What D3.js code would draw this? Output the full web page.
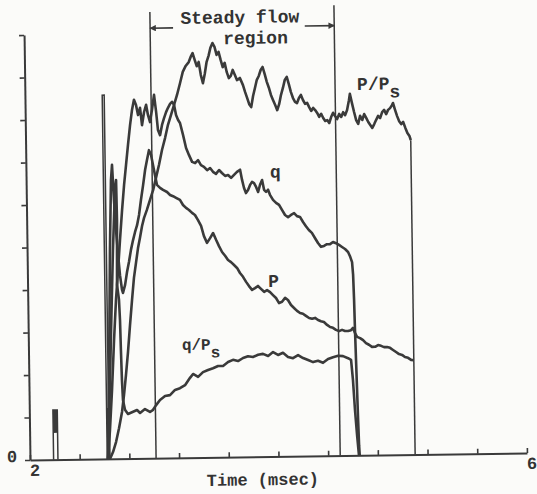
<!DOCTYPE html>
<html><head><meta charset="utf-8">
<script src="https://cdn.jsdelivr.net/npm/d3@7"></script>
<style>
html,body{margin:0;padding:0;background:#fbfbf9;}
svg{display:block;}
text{font-family:"Liberation Mono","DejaVu Sans Mono",monospace;fill:#333;font-weight:bold;}
</style></head><body>
<svg id="chart" width="537" height="494"></svg>
<script>
// ---- axes ----
const xDomain = [2, 6];
const yDomain = [0, 10];
const xTickValues = [2, 2.4, 2.8, 3.2, 3.6, 4.0, 4.4, 4.8, 5.2, 5.6, 6];
const yTickValues = [0, 1, 2, 3, 4, 5, 6, 7, 8, 9, 10];
const xTickLabels = [{t: 2, text: "2"}, {t: 6, text: "6"}];
const yTickLabels = [{v: 0, text: "0"}];

// ---- series: [time (msec), value] ----
const seriesPPs = [
[2.644,0],[2.669,0.16],[2.695,0.40],[2.720,0.72],[2.746,1.10],[2.764,1.50],[2.782,1.97],[2.801,2.51],
[2.820,3.14],[2.839,3.73],[2.857,4.25],[2.876,4.62],[2.893,4.95],[2.910,5.19],[2.928,5.47],[2.945,5.66],
[2.968,5.84],[2.995,6.08],[3.021,6.31],[3.045,6.59],[3.071,6.90],[3.097,7.25],[3.123,7.53],[3.148,7.84],
[3.173,8.07],[3.199,8.31],[3.224,8.54],[3.250,8.82],[3.273,9.08],[3.297,9.22],[3.322,9.31],[3.338,9.43],
[3.354,9.52],[3.370,9.36],[3.386,9.21],[3.402,9.31],[3.418,9.00],[3.434,8.81],[3.450,9.03],[3.466,9.31],
[3.482,9.45],[3.498,9.64],[3.515,9.75],[3.531,9.66],[3.547,9.47],[3.563,9.54],[3.579,9.35],[3.595,9.18],
[3.611,9.28],[3.627,9.06],[3.643,8.92],[3.659,8.97],[3.675,9.11],[3.692,8.99],[3.708,8.87],[3.732,8.92],
[3.756,8.75],[3.772,8.59],[3.788,8.45],[3.804,8.30],[3.820,8.23],[3.836,8.49],[3.852,8.68],[3.868,8.87],
[3.884,8.96],[3.900,9.10],[3.916,9.17],[3.932,9.00],[3.948,8.82],[3.964,8.68],[3.980,8.51],[3.996,8.39],
[4.013,8.27],[4.029,8.15],[4.045,8.29],[4.061,8.51],[4.077,8.67],[4.093,8.86],[4.109,8.93],[4.125,8.76],
[4.141,8.57],[4.157,8.43],[4.173,8.34],[4.189,8.31],[4.205,8.43],[4.221,8.50],[4.237,8.38],[4.254,8.29],
[4.270,8.31],[4.286,8.21],[4.302,8.12],[4.318,8.19],[4.334,8.14],[4.350,8.07],[4.366,7.98],[4.382,8.05],
[4.398,7.95],[4.414,7.88],[4.430,7.90],[4.446,7.83],[4.462,7.97],[4.478,8.07],[4.494,7.99],[4.510,7.92],
[4.527,8.04],[4.543,7.97],[4.559,8.08],[4.575,8.01],[4.591,8.13],[4.607,8.36],[4.615,8.51],[4.631,8.29],
[4.647,8.08],[4.663,7.89],[4.679,7.80],[4.695,7.99],[4.712,7.89],[4.728,8.03],[4.744,7.94],[4.760,7.84],
[4.776,7.77],[4.792,7.70],[4.808,7.79],[4.824,7.89],[4.840,7.98],[4.856,7.93],[4.873,8.07],[4.889,8.12],
[4.905,8.02],[4.921,8.12],[4.937,8.16],[4.953,8.23],[4.961,8.28],[4.977,8.12],[4.993,7.97],[5.009,7.85],
[5.025,7.78],[5.041,7.83],[5.058,7.69],[5.074,7.57],[5.090,7.50],[5.100,7.40]
];

const seriesQ = [
[2.628,0],[2.647,0.68],[2.668,1.62],[2.690,2.80],[2.710,3.74],[2.730,4.44],[2.749,5.15],[2.769,5.85],
[2.788,6.44],[2.806,6.91],[2.824,7.38],[2.843,7.85],[2.860,8.20],[2.877,8.44],[2.893,8.32],[2.908,8.08],
[2.925,8.25],[2.939,7.84],[2.957,8.15],[2.974,8.32],[2.988,8.08],[3.004,7.91],[3.021,8.20],[3.039,8.55],
[3.054,8.15],[3.067,7.72],[3.083,7.60],[3.100,7.84],[3.117,8.00],[3.134,8.14],[3.150,8.24],[3.167,8.33],
[3.183,8.38],[3.199,8.31],[3.214,8.07],[3.230,7.95],[3.245,7.88],[3.268,7.60],[3.291,7.29],[3.314,7.12],
[3.338,6.96],[3.362,6.93],[3.386,7.00],[3.409,6.88],[3.433,6.84],[3.458,6.76],[3.482,6.81],[3.505,6.72],
[3.529,6.67],[3.554,6.76],[3.577,6.69],[3.602,6.62],[3.626,6.64],[3.650,6.57],[3.674,6.64],[3.698,6.71],
[3.723,6.76],[3.738,6.52],[3.753,6.33],[3.768,6.21],[3.785,6.28],[3.802,6.40],[3.818,6.47],[3.834,6.44],
[3.850,6.35],[3.866,6.23],[3.882,6.40],[3.899,6.51],[3.914,6.28],[3.930,6.23],[3.946,6.28],[3.961,6.16],
[3.985,6.04],[4.009,5.97],[4.033,5.92],[4.056,5.80],[4.080,5.68],[4.104,5.63],[4.128,5.68],[4.153,5.72],
[4.176,5.65],[4.200,5.63],[4.224,5.51],[4.247,5.41],[4.270,5.32],[4.294,5.25],[4.318,5.13],[4.342,5.01],
[4.366,4.92],[4.390,4.94],[4.414,4.98],[4.439,4.98],[4.463,5.03],[4.487,5.00],[4.511,4.96],[4.535,4.91],
[4.559,4.86],[4.583,4.79],[4.598,4.69],[4.614,4.55],[4.621,4.25],[4.626,3.66],[4.630,2.95],[4.635,2.24],
[4.640,1.54],[4.645,0.83],[4.650,0.24],[4.654,0]
];

const seriesP = [
[2.628,0],[2.645,1.86],[2.667,4.92],[2.683,6.56],[2.693,6.92],[2.705,6.09],[2.718,5.38],[2.732,4.80],
[2.745,4.32],[2.760,3.97],[2.767,3.90],[2.785,4.09],[2.802,4.39],[2.819,4.63],[2.836,4.91],[2.854,5.14],
[2.871,5.33],[2.888,5.49],[2.905,5.73],[2.922,6.08],[2.941,6.43],[2.959,6.79],[2.975,7.02],[2.992,7.25],
[3.008,7.14],[3.023,6.90],[3.038,6.66],[3.053,6.43],[3.077,6.36],[3.101,6.31],[3.133,6.26],[3.157,6.19],
[3.181,6.16],[3.205,6.12],[3.236,6.07],[3.260,5.95],[3.284,5.88],[3.308,5.83],[3.332,5.76],[3.355,5.71],
[3.379,5.59],[3.403,5.45],[3.425,5.21],[3.449,5.05],[3.474,5.16],[3.499,5.28],[3.522,5.12],[3.545,4.97],
[3.569,4.83],[3.593,4.74],[3.616,4.64],[3.640,4.59],[3.664,4.52],[3.688,4.45],[3.711,4.33],[3.735,4.24],
[3.759,4.12],[3.782,4.02],[3.806,3.93],[3.830,3.97],[3.854,4.02],[3.878,3.95],[3.903,3.88],[3.927,3.92],
[3.951,3.87],[3.974,3.80],[3.998,3.73],[4.022,3.61],[4.046,3.64],[4.071,3.73],[4.094,3.68],[4.118,3.56],
[4.142,3.49],[4.166,3.42],[4.190,3.37],[4.213,3.35],[4.237,3.30],[4.262,3.25],[4.286,3.23],[4.310,3.25],
[4.334,3.20],[4.357,3.17],[4.381,3.15],[4.406,3.08],[4.430,3.03],[4.453,3.01],[4.477,2.96],[4.501,2.93],
[4.526,2.96],[4.550,2.93],[4.574,2.93],[4.598,2.95],[4.614,3.00],[4.630,2.88],[4.646,2.79],[4.670,2.76],
[4.694,2.71],[4.717,2.64],[4.741,2.60],[4.765,2.55],[4.790,2.55],[4.814,2.59],[4.838,2.57],[4.862,2.54],
[4.886,2.54],[4.910,2.52],[4.934,2.47],[4.958,2.42],[4.982,2.37],[5.006,2.35],[5.029,2.30],[5.054,2.28],
[5.078,2.23],[5.100,2.22]
];

const seriesQPs = [
[2.628,0],[2.639,0.68],[2.667,3.03],[2.691,4.91],[2.716,6.44],[2.724,6.56],[2.727,5.62],[2.720,4.09],
[2.734,3.74],[2.740,3.26],[2.744,2.56],[2.749,1.85],[2.755,1.38],[2.770,1.15],[2.794,1.05],[2.835,1.10],
[2.867,1.14],[2.891,1.07],[2.931,1.16],[2.971,1.09],[2.996,1.14],[3.021,1.25],[3.053,1.37],[3.094,1.46],
[3.134,1.48],[3.175,1.60],[3.215,1.64],[3.256,1.71],[3.297,1.88],[3.322,1.97],[3.362,1.90],[3.402,2.01],
[3.443,2.06],[3.483,2.10],[3.524,2.15],[3.564,2.15],[3.605,2.24],[3.645,2.29],[3.685,2.26],[3.726,2.33],
[3.766,2.37],[3.806,2.35],[3.847,2.40],[3.887,2.42],[3.928,2.37],[3.968,2.46],[4.008,2.39],[4.048,2.44],
[4.088,2.34],[4.128,2.31],[4.169,2.38],[4.209,2.31],[4.249,2.26],[4.289,2.21],[4.329,2.24],[4.369,2.19],
[4.410,2.28],[4.450,2.32],[4.491,2.35],[4.531,2.34],[4.571,2.29],[4.595,2.25],[4.608,1.78],[4.621,1.07],
[4.635,0.48],[4.648,0]
];

// early trigger spike and small pulse
const spikeTrace = [[2.622,0],[2.622,8.56],[2.638,8.56],[2.638,0]];
const spikeBar = {t0: 2.622, t1: 2.650, v0: 0, v1: 1.2};
const pulseTrace = [[2.190,0],[2.190,1.17],[2.225,1.17],[2.225,0]];
const pulseBar = {t0: 2.190, t1: 2.225, v0: 0.63, v1: 1.17};

// vertical guide lines (time, top value)
const guideTimes = [3.015, 4.497, 5.100];
const guideTops = [10.50, 10.60, 7.40];

// steady flow region arrows
const arrowLevel = 10.12;
const arrowLeft = [3.20, 3.015];
const arrowRight = [4.26, 4.497];

// text annotations [time, value]
const annotations = [
  {t: 3.738, v: 10.21, text: "Steady flow", anchor: "middle", size: 18},
  {t: 3.862, v: 9.72, text: "region", anchor: "middle", size: 18},
  {t: 3.964, v: 6.56, text: "q", anchor: "start", size: 18},
  {t: 3.936, v: 3.99, text: "P", anchor: "start", size: 18}
];
const subLabels = [
  {t: 4.674, v: 8.60, main: "P/P", sub: "s", size: 18},
  {t: 3.235, v: 2.54, main: "q/P", sub: "s", size: 16}
];
const axisTitle = {t: 3.872, v: -0.67, text: "Time (msec)"};

// ---- drawing ----
const ink = "#3a3a3a";
const svg = d3.select("#chart");
const g = svg.append("g").attr("transform", "rotate(-0.8,30,460)");

const x = d3.scaleLinear().domain(xDomain).range([30, 527]);
const y = d3.scaleLinear().domain(yDomain).range([460, 35]);

const xAxis = d3.axisBottom(x).tickValues(xTickValues).tickSize(-5).tickSizeOuter(0).tickFormat("");
const yAxis = d3.axisLeft(y).tickValues(yTickValues).tickSize(5).tickSizeOuter(0).tickFormat("");

const gx = g.append("g").attr("transform", `translate(0,${y(0)})`).call(xAxis);
const gy = g.append("g").attr("transform", `translate(${x(2)},0)`).call(yAxis);
[gx, gy].forEach(a => {
  a.select(".domain").attr("stroke", ink).attr("stroke-width", 2);
  a.selectAll(".tick line").attr("stroke", ink).attr("stroke-width", 1.6);
});

g.selectAll(".xlab").data(xTickLabels).enter().append("text")
  .attr("x", d => x(d.t) + 5).attr("y", y(0) + 16)
  .attr("text-anchor", "middle").attr("font-size", 17).text(d => d.text);
g.selectAll(".ylab").data(yTickLabels).enter().append("text")
  .attr("x", x(2) - 18).attr("y", y(0) + 2)
  .attr("text-anchor", "middle").attr("font-size", 17).text(d => d.text);

g.append("text").attr("x", x(axisTitle.t)).attr("y", y(axisTitle.v))
  .attr("text-anchor", "middle").attr("font-size", 17).text(axisTitle.text);

// guide lines
g.selectAll(".guide").data(guideTimes).enter().append("line")
  .attr("x1", d => x(d)).attr("x2", d => x(d))
  .attr("y1", y(0)).attr("y2", (d, i) => y(guideTops[i]))
  .attr("stroke", ink).attr("stroke-width", 1.5);

// arrows
const defs = svg.append("defs");
defs.append("marker").attr("id", "ah").attr("viewBox", "0 0 10 10")
  .attr("refX", 9).attr("refY", 5).attr("markerWidth", 5).attr("markerHeight", 4)
  .attr("orient", "auto").attr("markerUnits", "strokeWidth")
  .append("path").attr("d", "M0,0 L10,5 L0,10 Z").attr("fill", ink);
[arrowLeft, arrowRight].forEach(a => {
  g.append("line").attr("x1", x(a[0])).attr("x2", x(a[1]))
    .attr("y1", y(arrowLevel)).attr("y2", y(arrowLevel))
    .attr("stroke", ink).attr("stroke-width", 1.6).attr("marker-end", "url(#ah)");
});

// traces
const line = d3.line().x(d => x(d[0])).y(d => y(d[1]));
[seriesPPs, seriesQ, seriesP, seriesQPs].forEach(s => {
  g.append("path").datum(s).attr("d", line)
    .attr("fill", "none").attr("stroke", ink).attr("stroke-width", 2.6)
    .attr("stroke-linejoin", "round");
});
[spikeTrace, pulseTrace].forEach(s => {
  g.append("path").datum(s).attr("d", line)
    .attr("fill", "none").attr("stroke", ink).attr("stroke-width", 1.5);
});
[spikeBar, pulseBar].forEach(b => {
  g.append("rect").attr("x", x(b.t0)).attr("width", x(b.t1) - x(b.t0))
    .attr("y", y(b.v1)).attr("height", y(b.v0) - y(b.v1)).attr("fill", ink);
});

// annotations
annotations.forEach(a => {
  g.append("text").attr("x", x(a.t)).attr("y", y(a.v))
    .attr("text-anchor", a.anchor).attr("font-size", a.size).text(a.text);
});
subLabels.forEach(a => {
  const tx = g.append("text").attr("x", x(a.t)).attr("y", y(a.v)).attr("font-size", a.size);
  tx.append("tspan").text(a.main);
  tx.append("tspan").attr("dy", 8).text(a.sub);
});
</script>
</body></html>
